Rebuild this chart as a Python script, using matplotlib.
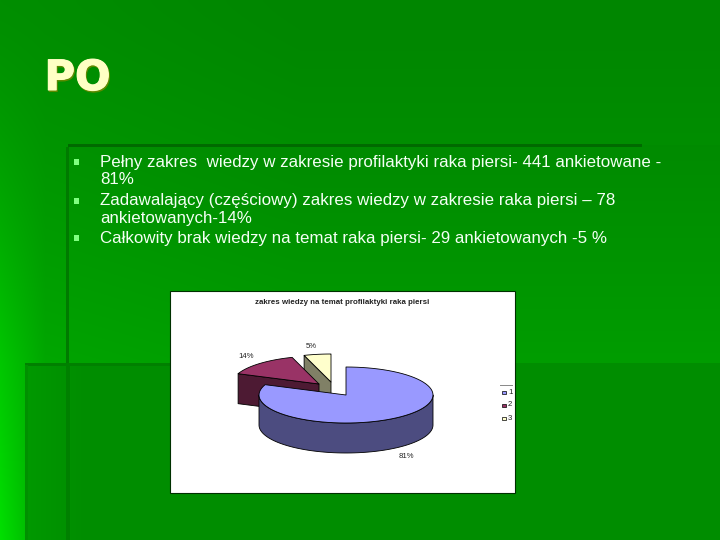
import numpy as np
import matplotlib
matplotlib.use("Agg")
import matplotlib.pyplot as plt
import matplotlib.patheffects as pe
from matplotlib.patches import Polygon, Rectangle

# ---- data ----
title = "PO"
bullets = [
    ["Pełny zakres  wiedzy w zakresie profilaktyki raka piersi- 441 ankietowane -", "81%"],
    ["Zadawalający (częściowy) zakres wiedzy w zakresie raka piersi – 78", "ankietowanych-14%"],
    ["Całkowity brak wiedzy na temat raka piersi- 29 ankietowanych -5 %"],
]
chart_title = "zakres wiedzy na temat profilaktyki raka piersi"
categories = ["1", "2", "3"]
shares = [81, 14, 5]

# ---- styles / layout (pixel space of the slide) ----
top_colors = ["#9999ff", "#993366", "#ffffcc"]
side_colors = ["#4c4c80", "#4d1a33", "#808066"]
W, H = 720, 540
cx, cy, rx, ry, depth = 346, 395, 87, 28, 30
offsets = [(0, 0), (-27, -11), (-15, -13)]
label_pos = [(406, 456), (246, 356), (311, 347)]

fig = plt.figure(figsize=(7.2, 5.4), dpi=100)
ax = fig.add_axes([0, 0, 1, 1])
ax.set_xlim(0, W)
ax.set_ylim(H, 0)
ax.axis("off")

# slide background: green gradient with darker overlapping panels
yy, xx = np.mgrid[0:H, 0:W]
g = 134 + 26 * np.clip(yy / 363.0, 0, 1) ** 1.3
g = g + 8 * np.clip(1 - xx / 300.0, 0, 1)
g = g + 56 * np.clip(1 - xx / 45.0, 0, 1) * np.clip(yy / 540.0, 0, 1) ** 1.5
g = np.where((xx >= 68) & (yy >= 145), g - 3, g)
lower = 141 + 12 * np.clip(1 - (xx - 25) / 60.0, 0, 1)
g = np.where((xx >= 25) & (yy >= 363), lower, g)
bg = np.stack([np.zeros_like(g), g, np.zeros_like(g)], axis=-1) / 255.0
ax.imshow(np.clip(bg, 0, 1), extent=(0, W, H, 0), aspect="auto", zorder=0, interpolation="bilinear")
ax.set_xlim(0, W)
ax.set_ylim(H, 0)

# panel edges
for x0, y0, w, h, col in [
    (68, 144, 574, 3, "#006a00"), (66, 147, 3, 216, "#007a00"),
    (25, 363, 145, 3, "#008000"), (66, 363, 4, 177, "#008000"),
    (25, 365, 3, 175, "#009000"),
]:
    ax.add_patch(Rectangle((x0, y0), w, h, fc=col, ec="none", zorder=1))

# title with shadow
ax.text(45.5, 91.5, title, fontsize=30, fontweight="bold", family="DejaVu Sans",
        color="#5f8a00", va="baseline", zorder=2,
        path_effects=[pe.withStroke(linewidth=0.8, foreground="#5f8a00")])
ax.text(44.5, 90, title, fontsize=30, fontweight="bold", family="DejaVu Sans",
        color="#ffffc4", va="baseline", zorder=3,
        path_effects=[pe.withStroke(linewidth=0.8, foreground="#ffffc4")])

# bullet list
line_y = [[162, 180], [201, 219], [238]]
for lines, ys in zip(bullets, line_y):
    ax.add_patch(Rectangle((74, ys[0] - 3), 5, 6, fc="#80ff80", ec="none", zorder=3))
    for s, y in zip(lines, ys):
        ax.text(100, y, s, fontsize=12.15, family="Liberation Sans", color="#f4fff4",
                va="center", ha="left", zorder=3)

# chart box
ax.add_patch(Rectangle((170, 291), 345, 202, fc="white", ec="#003000", lw=0.8, zorder=4))
ax.text(342.5, 303, chart_title, fontsize=5.7, fontweight="bold", family="Liberation Sans",
        color="#222222", ha="center", va="center", zorder=5)


def arc(a0, a1, off, dz=0.0, n=80):
    t = np.radians(np.linspace(a0, a1, n))
    return np.column_stack([cx + off[0] + rx * np.sin(t), cy + off[1] + ry * -np.cos(t) + dz])


# angles (clockwise from 12 o'clock) come from the shares
edges = np.concatenate([[0], np.cumsum(shares)]) / float(sum(shares)) * 360.0
z = 5
for i in [2, 1, 0]:
    a0, a1, off = edges[i], edges[i + 1], offsets[i]
    apex = np.array([cx + off[0], cy + off[1]])
    rim = arc(a0, a1, off)
    if i == 0:
        # outer wall, front half of the ellipse
        u = arc(90, 270, off)
        wall = np.vstack([u, arc(90, 270, off, depth)[::-1]])
    else:
        # cut face along the radius at the wedge's trailing edge
        p = rim[0]
        wall = np.array([p, apex, apex + [0, depth], p + [0, depth]])
    ax.add_patch(Polygon(wall, closed=True, fc=side_colors[i], ec="black", lw=0.6,
                         joinstyle="round", zorder=z))
    ax.add_patch(Polygon(np.vstack([apex, rim]), closed=True, fc=top_colors[i], ec="black",
                         lw=0.6, joinstyle="round", zorder=z + 1))
    z += 2

for v, (lx, ly) in zip(shares, label_pos):
    ax.text(lx, ly, f"{v}%", fontsize=5.6, family="Liberation Sans", color="#222222",
            ha="center", va="center", zorder=20)

# legend
ax.plot([500, 512], [385, 385], color="#888888", lw=0.7, zorder=20)
for i, c in enumerate(categories):
    y = 392 + 13 * i
    ax.add_patch(Rectangle((502, y - 1.5), 3.5, 3.5, fc=top_colors[i], ec="black", lw=0.5, zorder=20))
    ax.text(508, y, c, fontsize=5.6, family="Liberation Sans", color="#222222",
            ha="left", va="center", zorder=20)

fig.savefig("out.png", dpi=100)
